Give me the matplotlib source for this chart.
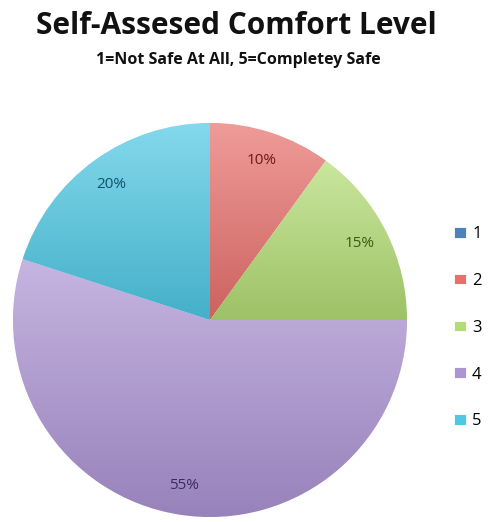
import matplotlib.pyplot as plt
import matplotlib.colors as mcolors
import numpy as np

# data
levels = ['1', '2', '3', '4', '5']
shares = [0, 10, 15, 55, 20]
colors = ['#4f81bd', '#e8706c', '#b3dc74', '#ad94d4', '#4ec8e4']
label_colors = ['#1f3f66', '#6b1a18', '#3b5a12', '#3b2c60', '#15506a']

fig = plt.figure(figsize=(4.93, 5.22), dpi=100)
fig.patch.set_facecolor('white')

ax = fig.add_axes([13 / 493, (522 - 320 - 197) / 522, 394 / 493, 394 / 522])
wedges, texts = ax.pie(shares, colors=colors, startangle=90, counterclock=False,
                       wedgeprops=dict(edgecolor='white', linewidth=0.6))

# soft vertical gradient inside every slice (light top, darker bottom)
for w, c in zip(wedges, colors):
    if w.theta2 - w.theta1 <= 0:
        continue
    base = np.array(mcolors.to_rgb(c))
    top = base + (1 - base) * 0.3
    bot = base * 0.88
    t = np.linspace(0, 1, 64)[:, None]
    grad = (top[None, :] * (1 - t) + bot[None, :] * t)[:, None, :]
    bb = w.get_path().get_extents(w.get_patch_transform())
    im = ax.imshow(grad, extent=[bb.x0, bb.x1, bb.y0, bb.y1], aspect='auto',
                   interpolation='bilinear', zorder=w.get_zorder() + 0.1)
    im.set_clip_path(w)

ax.set_xlim(-1, 1)
ax.set_ylim(-1, 1)
ax.set_aspect('equal')
ax.axis('off')

# percentage labels
for w, v, c in zip(wedges, shares, label_colors):
    if v == 0:
        continue
    ang = np.deg2rad((w.theta1 + w.theta2) / 2)
    ax.text(0.85 * np.cos(ang), 0.85 * np.sin(ang), '%d%%' % v, ha='center', va='center',
            fontsize=11, color=c, family='Open Sans', zorder=5)

fig.text(0.479, 0.951, 'Self-Assesed Comfort Level', ha='center', va='center',
         fontsize=21.5, fontweight='bold', family='Open Sans', color='#111111')
fig.text(0.483, 0.886, '1=Not Safe At All, 5=Completey Safe', ha='center', va='center',
         fontsize=11.5, fontweight='bold', family='Open Sans', color='#111111')

leg = fig.legend(wedges, levels, loc='center left', bbox_to_anchor=(0.89, 0.372),
                 frameon=False, handlelength=0.75, handleheight=0.6, handletextpad=0.35,
                 labelspacing=1.85, prop={'family': 'Open Sans', 'size': 12})

fig.savefig('out.png', dpi=100)
